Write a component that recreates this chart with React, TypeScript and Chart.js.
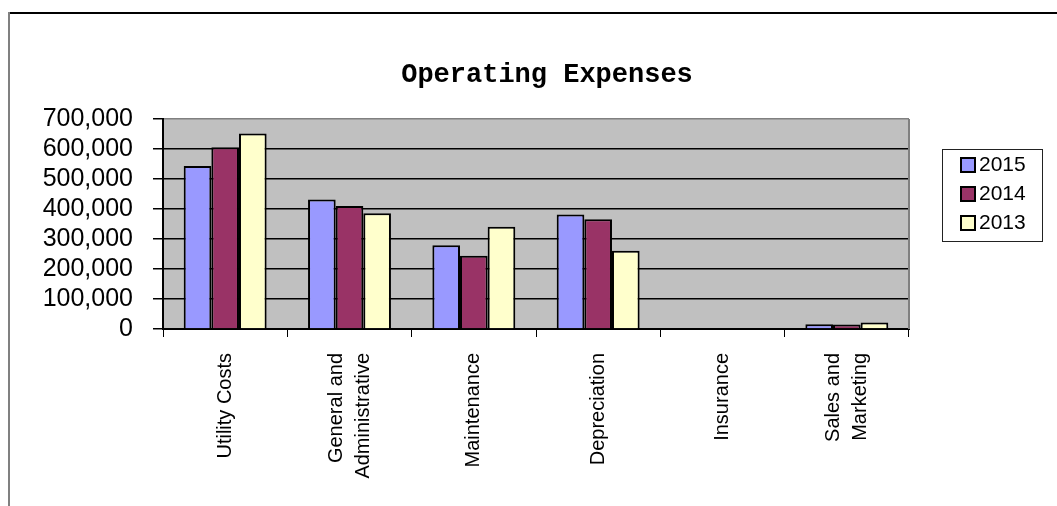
import React, { useEffect, useRef } from 'react';
import { Chart, registerables } from 'chart.js';

Chart.register(...registerables);

const chartTitle = 'Operating Expenses';
const categories: string[][] = [
  ['Utility Costs'],
  ['General and', 'Administrative'],
  ['Maintenance'],
  ['Depreciation'],
  ['Insurance'],
  ['Sales and', 'Marketing'],
];
const seriesNames = ['2015', '2014', '2013'];
const values2015 = [543000, 432000, 279000, 382000, 0, 16000];
const values2014 = [606000, 410000, 244000, 366000, 0, 15000];
const values2013 = [652000, 386000, 341000, 261000, 0, 22000];
const seriesColors = ['#9999FF', '#993366', '#FFFFCC'];
const yMin = 0;
const yMax = 700000;
const yStep = 100000;

const decorPlugin = {
  id: 'decor',
  beforeDraw(chart: any) {
    const { ctx, chartArea: a } = chart;
    ctx.save();
    ctx.fillStyle = '#FFFFFF';
    ctx.fillRect(0, 0, chart.width, chart.height);
    ctx.fillStyle = '#C0C0C0';
    ctx.fillRect(a.left, a.top, a.right - a.left, a.bottom - a.top);
    // outer frame
    ctx.fillStyle = '#000000';
    ctx.fillRect(9, 12, chart.width - 9, 2);
    ctx.fillStyle = '#808080';
    ctx.fillRect(8, 12, 2, chart.height - 12);
    ctx.restore();
  },
  afterDraw(chart: any) {
    const { ctx, chartArea: a } = chart;
    ctx.save();
    // plot right border
    ctx.fillStyle = '#808080';
    ctx.fillRect(a.right - 1, a.top, 2, a.bottom - a.top);

    // title
    ctx.fillStyle = '#000';
    ctx.font = 'bold 27px "Liberation Mono"';
    ctx.textAlign = 'center';
    ctx.textBaseline = 'alphabetic';
    ctx.fillText(chartTitle, 547, 82);

    // x labels
    const xs = chart.scales.x;
    ctx.font = '20px "Liberation Sans"';
    categories.forEach((lines, i) => {
      const px = xs.getPixelForTick(i);
      const n = lines.length;
      lines.forEach((line, j) => {
        const cx = px + (j - (n - 1) / 2) * 27;
        ctx.save();
        ctx.translate(cx, 353);
        ctx.rotate(-Math.PI / 2);
        ctx.textAlign = 'right';
        ctx.textBaseline = 'middle';
        ctx.fillText(line, 0, 0);
        ctx.restore();
      });
    });

    // legend
    ctx.strokeStyle = '#222';
    ctx.lineWidth = 1;
    ctx.strokeRect(942.5, 149.5, 100, 92);
    ctx.font = '21px "Liberation Sans"';
    ctx.textAlign = 'left';
    ctx.textBaseline = 'middle';
    chart.data.datasets.forEach((ds: any, i: number) => {
      const cy = 165 + i * 29;
      ctx.fillStyle = ds.backgroundColor;
      ctx.fillRect(961, cy - 7, 14, 14);
      ctx.lineWidth = 2;
      ctx.strokeStyle = '#000';
      ctx.strokeRect(961, cy - 7, 14, 14);
      ctx.fillStyle = '#000';
      ctx.fillText(ds.label, 979, cy);
    });
    ctx.restore();
  },
};

export default function App() {
  const ref = useRef<HTMLCanvasElement | null>(null);
  useEffect(() => {
    if (!ref.current) return;
    const seriesValues = [values2015, values2014, values2013];
    const chart = new Chart(ref.current, {
      type: 'bar',
      data: {
        labels: categories.map((c) => c.join(' ')),
        datasets: seriesNames.map((name, i) => ({
          label: name,
          data: seriesValues[i],
          backgroundColor: seriesColors[i],
          borderColor: '#000000',
          borderWidth: 2,
          barPercentage: 1,
          categoryPercentage: 0.667,
        })),
      },
      options: {
        animation: false,
        responsive: false,
        devicePixelRatio: 1,
        layout: { padding: { top: 119, left: 20, right: 148, bottom: 0 }, autoPadding: false },
        plugins: {
          legend: { display: false },
          title: { display: false },
          tooltip: { enabled: false },
        },
        scales: {
          x: {
            type: 'category',
            offset: true,
            grid: {
              display: true,
              drawOnChartArea: false,
              drawTicks: true,
              tickLength: 8,
              color: '#000',
              lineWidth: 1,
              offset: true,
            },
            border: { display: true, color: '#000', width: 2 },
            ticks: { display: false },
            afterFit: (s: any) => {
              s.height = 177;
            },
          },
          y: {
            min: yMin,
            max: yMax,
            ticks: {
              stepSize: yStep,
              autoSkip: false,
              color: '#000',
              padding: 20,
              font: { size: 25, family: '"Liberation Sans"' },
              callback: (v: any) => Number(v).toLocaleString('en-US'),
            },
            grid: {
              color: (c: any) => (c.tick && c.tick.value === yMax ? '#808080' : '#000'),
              tickColor: '#000',
              tickLength: 10,
              lineWidth: 1.5,
            },
            border: { color: '#000', width: 2 },
            afterFit: (s: any) => {
              s.width = 143;
            },
          },
        },
      } as any,
      plugins: [decorPlugin],
    });
    return () => chart.destroy();
  }, []);
  return (
    <div style={{ position: 'absolute', left: 0, top: 0, width: 1057, height: 506, background: '#fff' }}>
      <canvas ref={ref} width={1057} height={506} style={{ display: 'block' }} />
    </div>
  );
}
